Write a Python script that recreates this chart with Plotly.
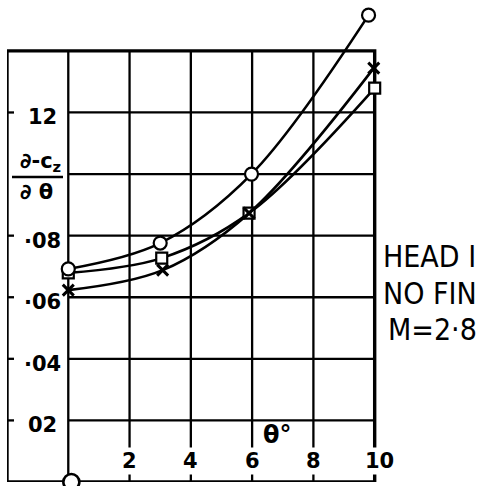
import plotly.graph_objects as go

# Measured slope derivative vs incidence angle, three configurations
circle_x = [0, 3, 5.98, 9.8]
circle_y = [0.0692, 0.0776, 0.1000, 0.1516]

square_x = [0, 3.05, 5.9, 10.0]
square_y = [0.0679, 0.0727, 0.0873, 0.1279]

cross_x = [0, 3.08, 5.9, 9.97]
cross_y = [0.0623, 0.0688, 0.0873, 0.1344]

origin_x = [0.1]
origin_y = [0.0]

x_ticks = [2, 4, 6, 8, 10]
x_tick_text = ["2", "4", "6", "8", "10"]
y_ticks = [0.02, 0.04, 0.06, 0.08, 0.12]
y_tick_text = ["02", "·04", "·06", "·08", "12"]
y_grid = [0.02, 0.04, 0.06, 0.08, 0.10, 0.12]
x_grid = [0, 2, 4, 6, 8]

note_lines = ["HEAD II", "NO FINS", "M=2·80"]

X_MIN, X_MAX = -2, 10
Y_MIN, Y_MAX = 0, 0.14

W, H = 478, 486
ML, MR, MT, MB = 7, 88, 5, 4
PX_X = (W - ML - MR) / 12.5          # pixels per x unit
PX_Y = (H - MT - MB) / 0.1549        # pixels per y unit

BOLD = "DejaVu Sans"
INK = "black"

fig = go.Figure()


def curve(xs, ys, symbol, size):
    fig.add_trace(go.Scatter(
        x=xs, y=ys, mode="lines+markers",
        line=dict(color=INK, width=2.6, shape="spline", smoothing=1.0),
        marker=dict(symbol=symbol, size=size, color="white",
                    line=dict(color=INK, width=2.2)),
        cliponaxis=False, showlegend=False, hoverinfo="skip",
    ))


curve(square_x, square_y, "square", 11)
curve(cross_x, cross_y, "x-thin", 11)
curve(circle_x, circle_y, "circle", 13)

# x-thin markers carry no fill; draw their strokes heavier
fig.data[1].marker.line.width = 3

fig.add_trace(go.Scatter(
    x=origin_x, y=origin_y, mode="markers",
    marker=dict(symbol="circle", size=16, color="white",
                line=dict(color=INK, width=2.6)),
    cliponaxis=False, showlegend=False, hoverinfo="skip",
))

shapes = []
# grid
for gx in x_grid:
    shapes.append(dict(type="line", x0=gx, x1=gx, y0=Y_MIN, y1=Y_MAX,
                       line=dict(color=INK, width=2.3), layer="below"))
for gy in y_grid:
    shapes.append(dict(type="line", x0=0, x1=X_MAX, y0=gy, y1=gy,
                       line=dict(color=INK, width=2.3), layer="below"))
# short ticks on the left frame
for ty in y_ticks:
    shapes.append(dict(type="line", x0=X_MIN, x1=X_MIN + 7 / PX_X, y0=ty, y1=ty,
                       line=dict(color=INK, width=2.3), layer="below"))
# outer frame
shapes.append(dict(type="rect", x0=X_MIN, x1=X_MAX, y0=Y_MIN, y1=Y_MAX,
                   line=dict(color=INK, width=3.4), layer="below"))
# fraction bar of the axis title
shapes.append(dict(type="line", x0=X_MIN + 5 / PX_X, x1=X_MIN + 56 / PX_X,
                   y0=0.1 - 3 / PX_Y, y1=0.1 - 3 / PX_Y,
                   line=dict(color=INK, width=2.6)))

ann = []
for ty, tt in zip(y_ticks, y_tick_text):
    ann.append(dict(x=X_MIN + 35 / PX_X, y=ty - 5 / PX_Y, text=f"<b>{tt}</b>",
                    showarrow=False, xanchor="center", yanchor="middle",
                    font=dict(family=BOLD, size=21, color=INK)))
for tx, tt in zip(x_ticks, x_tick_text):
    off = 5 / PX_X if tt == "10" else 0
    ann.append(dict(x=tx + off, y=Y_MIN + 21 / PX_Y, text=f"<b>{tt}</b>",
                    showarrow=False, xanchor="center", yanchor="middle",
                    bgcolor="white", borderpad=1,
                    font=dict(family=BOLD, size=21, color=INK)))
ann.append(dict(x=6.84, y=Y_MIN + 47 / PX_Y, text="<b>θ°</b>", showarrow=False,
                xanchor="center", yanchor="middle",
                font=dict(family=BOLD, size=24, color=INK)))
ann.append(dict(x=X_MIN + 33 / PX_X, y=0.1 + 12 / PX_Y, text="<b>∂-c<sub>z</sub></b>",
                showarrow=False, xanchor="center", yanchor="middle",
                font=dict(family=BOLD, size=21, color=INK)))
ann.append(dict(x=X_MIN + 29 / PX_X, y=0.1 - 18 / PX_Y, text="<b>∂ θ</b>",
                showarrow=False, xanchor="center", yanchor="middle",
                font=dict(family=BOLD, size=21, color=INK)))
for i, line in enumerate(note_lines):
    ann.append(dict(x=X_MAX + (6 + (5 if i == 2 else 0)) / PX_X,
                    y=0.0731 - i * 36.5 / PX_Y, text=line,
                    showarrow=False, xanchor="left", yanchor="middle",
                    font=dict(family="Liberation Sans Narrow, DejaVu Sans Condensed",
                              size=30, color=INK)))

fig.update_layout(
    width=W, height=H,
    margin=dict(l=ML, r=MR, t=MT, b=MB),
    paper_bgcolor="white", plot_bgcolor="white",
    xaxis=dict(range=[X_MIN, 10.5], visible=False, fixedrange=True),
    yaxis=dict(range=[Y_MIN, 0.1549], visible=False, fixedrange=True),
    shapes=shapes, annotations=ann, showlegend=False,
)

fig.write_html("out.html")
